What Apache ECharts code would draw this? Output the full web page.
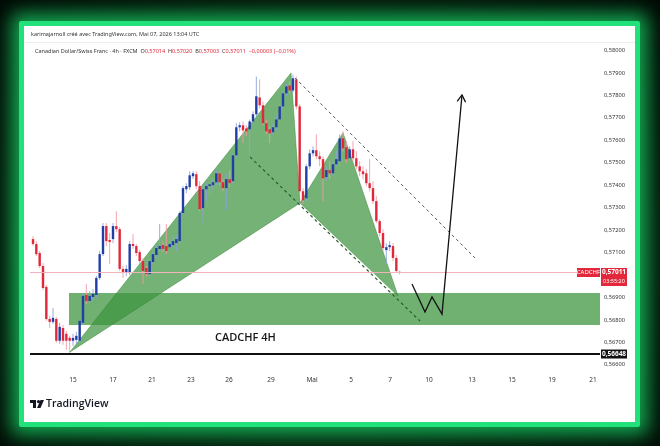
<!DOCTYPE html>
<html><head><meta charset="utf-8">
<script src="https://cdn.jsdelivr.net/npm/echarts@6/dist/echarts.min.js"></script>
<style>
html,body{margin:0;padding:0;width:660px;height:446px;overflow:hidden;background:#04120a;}
#bg{position:absolute;left:0;top:0;width:660px;height:446px;background:radial-gradient(ellipse at 50% 55%, #0c4a22 0%, #06250f 45%, #020a05 100%);}
#frame{position:absolute;left:19px;top:21px;width:611px;height:396px;border:5px solid #22e07a;background:#fff;box-shadow:0 0 18px 8px rgba(25,225,110,.7);border-radius:2px;}
#chart{position:absolute;left:0;top:0;width:660px;height:446px;}
</style></head>
<body>
<div id="bg"></div><div id="frame"></div><div id="chart"></div>
<script>
// ---- data ----
const xTickPos = [12, 24, 35.7, 47.4, 58.8, 71.4, 83.7, 95.4, 107.1, 118.8, 131.7, 143.7, 155.7, 168];
const xTickLabels = ['15','17','21','23','26','29','Mai','5','7','10','13','15','19','21'];
const yTicks = [0.566,0.567,0.568,0.569,0.570,0.571,0.572,0.573,0.574,0.575,0.576,0.577,0.578,0.579,0.580];
const yTickLabels = ['0,56600','0,56700','0,56800','0,56900','0,57000','0,57100','0,57200','0,57300','0,57400','0,57500','0,57600','0,57700','0,57800','0,57900','0,58000'];

const opens = [.57160,.57138,.57098,.57040,.56947,.56804,.56791,.56804,.56707,.56764,
.56738,.56720,.56707,.56711,.56707,.56787,.56911,.56884,.56902,.56911,
.56987,.57093,.57218,.57156,.57160,.57218,.57204,.57027,.57009,.57009,
.57138,.57129,.57102,.57062,.57031,.57004,.57058,.57089,.57116,.57133,
.57129,.57124,.57133,.57142,.57151,.57276,.57382,.57391,.57440,.57449,
.57396,.57298,.57382,.57396,.57400,.57413,.57453,.57413,.57387,.57427,
.57418,.57533,.57658,.57667,.57653,.57649,.57684,.57716,.57791,.57756,
.57676,.57649,.57636,.57658,.57693,.57751,.57809,.57844,.57822,.57871,
.57751,.57373,.57342,.57484,.57542,.57556,.57529,.57516,.57436,.57467,
.57453,.57493,.57507,.57609,.57569,.57520,.57560,.57520,.57484,.57462,
.57453,.57409,.57387,.57329,.57240,.57187,.57111,.57124,.57129,.57076,.57014];
const closes = [.57138,.57093,.57040,.56942,.56804,.56791,.56809,.56707,.56769,.56707,
.56707,.56707,.56720,.56729,.56796,.56907,.56884,.56907,.56916,.56987,
.57093,.57218,.57151,.57147,.57218,.57204,.57027,.57009,.57027,.57138,
.57129,.57098,.57062,.57018,.57004,.57062,.57093,.57120,.57129,.57116,
.57107,.57138,.57151,.57160,.57276,.57387,.57396,.57444,.57453,.57396,
.57293,.57382,.57396,.57404,.57413,.57453,.57413,.57387,.57427,.57409,
.57533,.57658,.57667,.57644,.57640,.57684,.57716,.57796,.57756,.57676,
.57640,.57631,.57658,.57693,.57751,.57809,.57840,.57822,.57876,.57751,
.57373,.57333,.57484,.57542,.57556,.57529,.57516,.57431,.57467,.57453,
.57493,.57516,.57609,.57564,.57516,.57560,.57520,.57484,.57462,.57449,
.57409,.57387,.57329,.57240,.57187,.57120,.57124,.57133,.57076,.57018,.57011];
const highs = [.57173,.57151,.57107,.57053,.56956,.56818,.56853,.56813,.56787,.56778,
.56751,.56729,.56738,.56747,.56804,.56920,.56960,.56929,.56938,.56996,
.57107,.57231,.57231,.57187,.57231,.57284,.57213,.57040,.57044,.57151,
.57182,.57138,.57111,.57076,.57040,.57071,.57107,.57133,.57227,.57151,
.57227,.57151,.57169,.57178,.57284,.57396,.57409,.57462,.57462,.57462,
.57418,.57396,.57409,.57418,.57427,.57471,.57462,.57427,.57453,.57467,
.57542,.57676,.57680,.57684,.57667,.57693,.57729,.57884,.57871,.57773,
.57693,.57662,.57676,.57711,.57764,.57818,.57853,.57862,.57893,.57884,
.57760,.57387,.57493,.57560,.57573,.57627,.57551,.57529,.57484,.57507,
.57516,.57551,.57627,.57640,.57596,.57573,.57596,.57551,.57507,.57484,
.57471,.57516,.57418,.57351,.57249,.57204,.57142,.57151,.57142,.57089,.57020];
const lows = [.57129,.57084,.57031,.56933,.56796,.56764,.56782,.56698,.56693,.56689,
.56667,.56649,.56684,.56693,.56698,.56778,.56871,.56867,.56884,.56898,
.56978,.57084,.57129,.57049,.57142,.57191,.57018,.56987,.56996,.57000,
.57116,.57084,.57049,.56960,.56991,.56991,.57049,.57076,.57107,.57102,
.57093,.57116,.57124,.57107,.57138,.57267,.57364,.57378,.57427,.57382,
.57284,.57231,.57329,.57351,.57382,.57400,.57400,.57373,.57289,.57391,
.57404,.57524,.57640,.57587,.57618,.57520,.57671,.57707,.57742,.57667,
.57627,.57587,.57622,.57644,.57684,.57738,.57796,.57809,.57813,.57738,
.57360,.57316,.57329,.57471,.57529,.57516,.57484,.57329,.57418,.57427,
.57440,.57484,.57484,.57551,.57498,.57507,.57507,.57471,.57440,.57427,
.57396,.57373,.57316,.57231,.57173,.57107,.57049,.57107,.57062,.57009,.57003];

// harmonic pattern points X, A, B, C, D (candle index, price)
const patternX = [11.1, 77.4, 80.1, 93.0, 109.5];
const patternY = [0.56657, 0.57900, 0.57321, 0.57633, 0.56906];
const triangles = [[0,1,2],[2,3,4]];
const channelLowX = [65.1, 116.1], channelLowY = [0.57526, 0.56795];
const channelHighX = [78.6, 132.6], channelHighY = [0.57878, 0.57076];
const arrowX = [113.7, 117.6, 119.7, 122.7, 128.7];
const arrowY = [0.56960, 0.56835, 0.56902, 0.56826, 0.57802];
const zoneStartX = 10.8, zoneTop = 0.56920, zoneBottom = 0.56777;
const lastPrice = 0.57011, lastPriceLabel = '0,57011', countdown = '03:55:20', symbolName = 'CADCHF';
const supportPrice = 0.56648, supportLabel = '0,56648';
const noteText = 'CADCHF 4H', noteX = 54.6, noteY = 0.56719;

// ---- chart ----
const XMIN = -0.9, XMAX = 170.1;
const YMAX = 0.580468, YMIN = 0.565768;
const chart = echarts.init(document.getElementById('chart'), null, {renderer:'canvas'});
const FONT = "'Liberation Sans Narrow','Noto Sans',sans-serif";

function belowRender(params, api){
  if (params.dataIndex !== 0) return null;
  const ch = [];
  const a = api.coord([zoneStartX, zoneTop]), b = api.coord([XMAX, zoneBottom]);
  ch.push({type:'rect', shape:{x:a[0], y:a[1], width:b[0]-a[0], height:b[1]-a[1]}, style:{fill:'rgba(62,148,64,0.74)'}});
  triangles.forEach(t => {
    ch.push({type:'polygon', shape:{points:t.map(k => api.coord([patternX[k], patternY[k]]))},
      style:{fill:'rgba(62,150,64,0.72)', stroke:'rgba(50,130,55,0.8)', lineWidth:0.6}});
  });
  return {type:'group', children:ch};
}

function aboveRender(params, api){
  if (params.dataIndex !== 0) return null;
  const ch = [];
  const l0 = api.coord([XMIN, lastPrice]), l1 = api.coord([XMAX, lastPrice]);
  ch.push({type:'line', shape:{x1:l0[0], y1:l0[1], x2:l1[0], y2:l1[1]}, style:{stroke:'#f1b3bb', lineWidth:1}});
  const s0 = api.coord([XMIN, supportPrice]), s1 = api.coord([XMAX, supportPrice]);
  ch.push({type:'line', shape:{x1:s0[0], y1:s0[1], x2:s1[0], y2:s1[1]}, style:{stroke:'#111', lineWidth:1.8}});
  const c0 = api.coord([channelLowX[0], channelLowY[0]]), c1 = api.coord([channelLowX[1], channelLowY[1]]);
  ch.push({type:'line', shape:{x1:c0[0], y1:c0[1], x2:c1[0], y2:c1[1]}, style:{stroke:'#2c5a2e', lineWidth:1.2, lineDash:[3,3]}});
  const h0 = api.coord([channelHighX[0], channelHighY[0]]), h1 = api.coord([channelHighX[1], channelHighY[1]]);
  ch.push({type:'line', shape:{x1:h0[0], y1:h0[1], x2:h1[0], y2:h1[1]}, style:{stroke:'#555', lineWidth:1, lineDash:[3,3]}});
  const pts = arrowX.map((x,k) => api.coord([x, arrowY[k]]));
  ch.push({type:'polyline', shape:{points:pts}, style:{stroke:'#111', lineWidth:1.3, fill:null}});
  const tip = pts[pts.length-1], prev = pts[pts.length-2];
  const ang = Math.atan2(tip[1]-prev[1], tip[0]-prev[0]);
  const L = 8, spread = 0.55;
  const w1 = [tip[0]-L*Math.cos(ang-spread), tip[1]-L*Math.sin(ang-spread)];
  const w2 = [tip[0]-L*Math.cos(ang+spread), tip[1]-L*Math.sin(ang+spread)];
  ch.push({type:'polyline', shape:{points:[w1, tip, w2]}, style:{stroke:'#111', lineWidth:1.3, fill:null}});
  const n = api.coord([noteX, noteY]);
  ch.push({type:'text', style:{x:n[0], y:n[1], text:noteText, fill:'#151515', font:"600 11px 'Open Sans',sans-serif", verticalAlign:'middle', align:'left'}});
  const rx = l1[0] + 1;
  ch.push({type:'rect', shape:{x:rx-24, y:l1[1]-4.5, width:23, height:9}, style:{fill:'#e2283a'}});
  ch.push({type:'text', style:{x:rx-12.5, y:l1[1], text:symbolName, fill:'#fff', font:"6px "+FONT, align:'center', verticalAlign:'middle'}});
  ch.push({type:'rect', shape:{x:rx, y:l1[1]-4.5, width:26, height:18}, style:{fill:'#e2283a'}});
  ch.push({type:'text', style:{x:rx+13, y:l1[1], text:lastPriceLabel, fill:'#fff', font:"bold 6.5px "+FONT, align:'center', verticalAlign:'middle'}});
  ch.push({type:'text', style:{x:rx+13, y:l1[1]+9, text:countdown, fill:'#fff', font:"5.5px "+FONT, align:'center', verticalAlign:'middle'}});
  ch.push({type:'rect', shape:{x:rx, y:s1[1]-4.5, width:26, height:9}, style:{fill:'#111'}});
  ch.push({type:'text', style:{x:rx+13, y:s1[1], text:supportLabel, fill:'#fff', font:"bold 6.5px "+FONT, align:'center', verticalAlign:'middle'}});
  return {type:'group', children:ch};
}

function candleRender(params, api){
  const i = api.value(0), o = api.value(1), c = api.value(2), l = api.value(3), h = api.value(4);
  const pO = api.coord([i,o]), pC = api.coord([i,c]), pL = api.coord([i,l]), pH = api.coord([i,h]);
  const up = c >= o;
  const x = pO[0];
  const w = 2.4;
  const top = Math.min(pO[1], pC[1]);
  const hgt = Math.max(Math.abs(pO[1]-pC[1]), 1);
  return {type:'group', children:[
    {type:'line', shape:{x1:x, y1:pH[1], x2:x, y2:pL[1]}, style:{stroke: up ? '#8ea2dc' : '#f29aa6', lineWidth:0.9}},
    {type:'rect', shape:{x:x-w/2, y:top, width:w, height:hgt}, style:{fill: up ? '#213ea4' : '#e1283b'}}
  ]};
}

const candleData = opens.map((o,i) => [i, o, closes[i], lows[i], highs[i]]);

chart.setOption({
  animation:false,
  backgroundColor:'transparent',
  grid:{left:30, right:60, top:40, bottom:76},
  xAxis:{type:'value', min:XMIN, max:XMAX,
    axisLine:{show:false}, axisTick:{show:false}, splitLine:{show:false},
    axisLabel:{customValues:xTickPos, color:'#333', fontSize:6.5, margin:7, fontFamily:FONT,
      formatter:v => { const k = xTickPos.findIndex(p => Math.abs(p-v) < 1e-6); return k>=0 ? xTickLabels[k] : ''; }}},
  yAxis:{type:'value', position:'right', min:YMIN, max:YMAX, scale:true,
    axisLine:{show:false}, axisTick:{show:false}, splitLine:{show:false},
    axisLabel:{customValues:yTicks, color:'#333', fontSize:5.7, margin:4, fontFamily:FONT,
      formatter:v => { const k = yTicks.findIndex(p => Math.abs(p-v) < 1e-9); return k>=0 ? yTickLabels[k] : ''; }}},
  series:[
    {type:'custom', name:'drawings', z:2, clip:false, data:[[0,0.57]], renderItem:belowRender, silent:true},
    {type:'custom', name:'CADCHF', z:5, data:candleData, encode:{x:0, y:[1,2,3,4]}, renderItem:candleRender},
    {type:'custom', name:'lines', z:6, clip:false, data:[[0,0.57]], renderItem:aboveRender, silent:true}
  ],
  graphic:[
    {type:'line', shape:{x1:25, y1:42.5, x2:635, y2:42.5}, style:{stroke:'#ececec', lineWidth:1}},
    {type:'text', left:31, top:31, style:{text:'karimajarnoll créé avec TradingView.com, Mai 07, 2026 13:04 UTC', fill:'#333', font:"5.5px "+FONT}},
    {type:'text', left:35, top:48, style:{
      text:'{d|Canadian Dollar/Swiss Franc · 4h · FXCM  O}{r|0,57014}{d|  H}{r|0,57020}{d|  B}{r|0,57003}{d|  C}{r|0,57011}{r|  −0,00003 (−0,01%)}',
      rich:{d:{fill:'#333', font:"5.5px "+FONT}, r:{fill:'#e2283a', font:"5.5px "+FONT}}}},
    {type:'group', left:30, top:400, children:[
      {type:'rect', shape:{x:0, y:0, width:6, height:3}, style:{fill:'#131722'}},
      {type:'rect', shape:{x:3, y:0, width:3, height:8}, style:{fill:'#131722'}},
      {type:'circle', shape:{cx:8.5, cy:1.6, r:1.6}, style:{fill:'#131722'}},
      {type:'polygon', shape:{points:[[10.5,0],[14,0],[10.5,8],[7,8]]}, style:{fill:'#131722'}}
    ]},
    {type:'text', left:46, top:398.5, style:{text:'TradingView', fill:'#131722', font:"600 10.5px 'Open Sans',sans-serif"}}
  ]
});
</script>
</body></html>
